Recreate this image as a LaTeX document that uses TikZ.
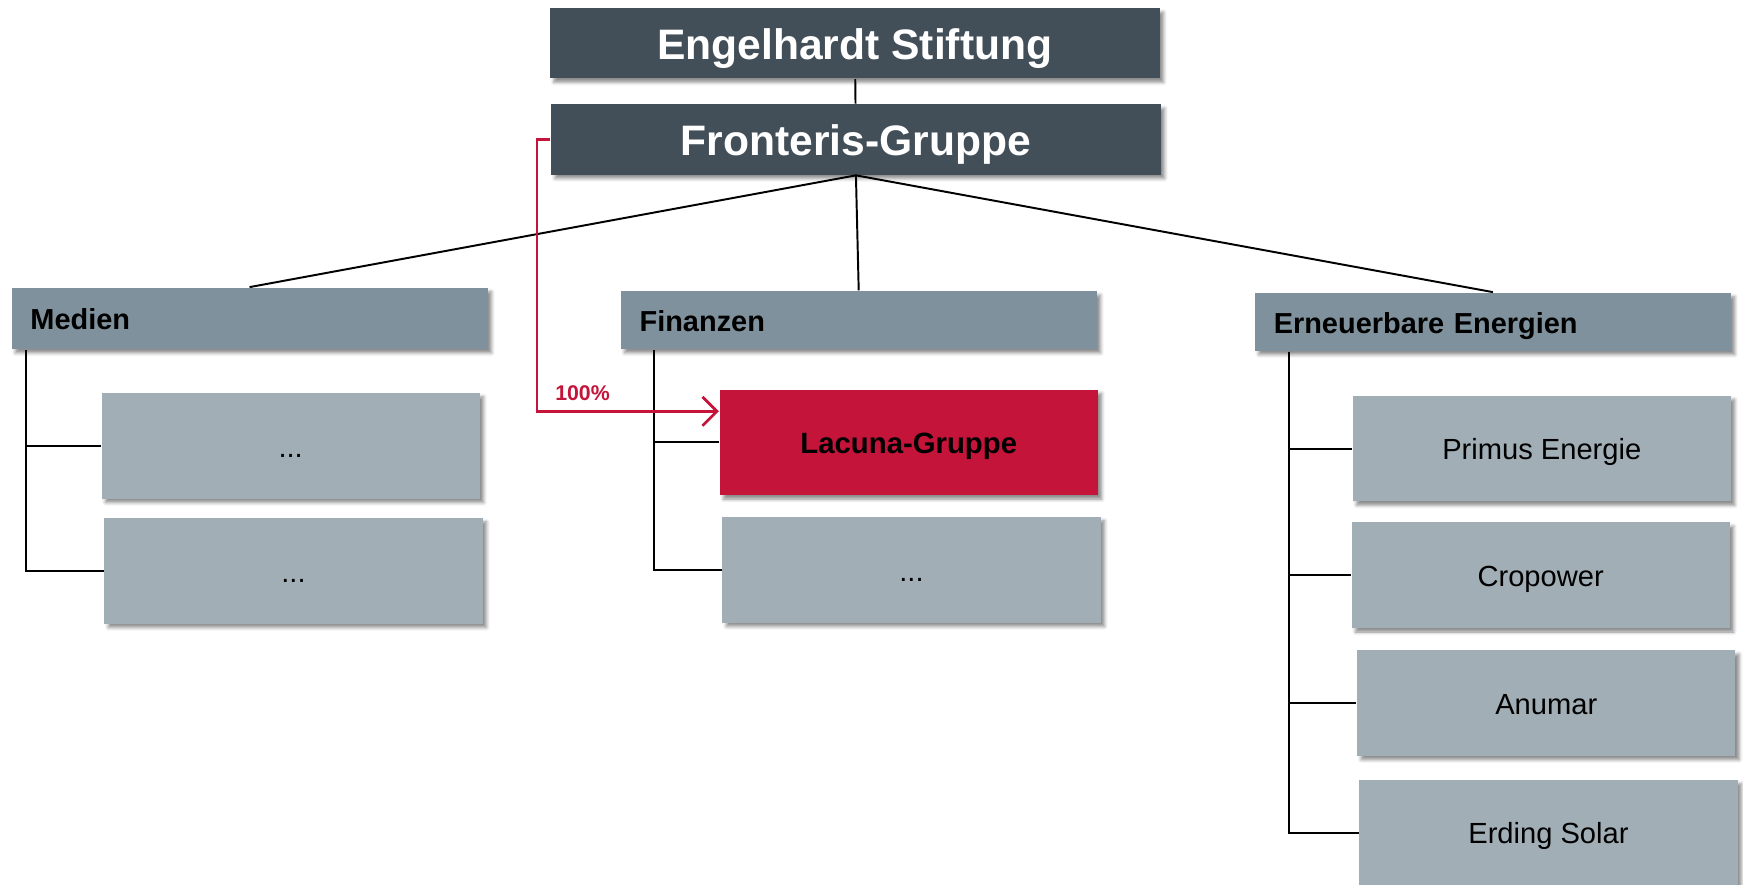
\documentclass[tikz,border=0pt]{standalone}
\usepackage{fontspec}
\setsansfont{Liberation Sans}
\usetikzlibrary{arrows.meta,shadows.blur}

\definecolor{topgrey}{RGB}{67,79,88}
\definecolor{headgrey}{RGB}{127,145,156}
\definecolor{unitgrey}{RGB}{161,174,181}
\definecolor{lacunared}{RGB}{196,20,58}

\begin{document}
\begin{tikzpicture}[x=0.01cm, y=-0.01cm,
		box_shadow/.style={blur shadow={shadow xshift=0.035cm, shadow yshift=-0.035cm, shadow blur radius=0.03cm, shadow opacity=45}},
		text_line/.style={text height=0.9em, text depth=0.1em},
		small_line/.style={text height=0.68em, text depth=0.1em},
		top_style/.style={rectangle, fill=topgrey, text=white, minimum width=5.48cm, minimum height=0.63cm, inner sep=0pt, text_line, box_shadow, font=\sffamily\bfseries\fontsize{10.9}{13}\selectfont},
		head_style/.style={rectangle, fill=headgrey, minimum height=0.52cm, inner xsep=0.17cm, inner ysep=0pt, text width=3.94cm, align=left, small_line, box_shadow, font=\sffamily\bfseries\fontsize{7.4}{9}\selectfont},
		unit_style/.style={rectangle, fill=unitgrey, minimum width=3.4cm, minimum height=0.95cm, inner sep=0pt, small_line, box_shadow, font=\sffamily\fontsize{7.45}{9}\selectfont},
		lacuna_style/.style={unit_style, fill=lacunared, font=\sffamily\bfseries\fontsize{7.5}{9}\selectfont},
		pct_style/.style={text=lacunared, inner sep=0.08cm, font=\sffamily\bfseries\fontsize{5.45}{7}\selectfont},
		edge_style/.style={draw=black, line width=0.5pt},
		own_style/.style={draw=lacunared, line width=0.7pt, -{Straight Barb[length=0.13cm, width=0.26cm, line width=0.7pt]}}]

		\useasboundingbox (0,0) rectangle (1568,796);

		% top of the group
		\node[top_style] (stiftung) at (769,39) {Engelhardt Stiftung};
		\node[top_style] (fronteris) at (770,125.5) {Fronteris-Gruppe};

		% divisions
		\node[head_style, minimum height=0.55cm] (medien) at (224.5,286.5) {Medien};
		\node[head_style] (finanzen) at (772.5,288) {Finanzen};
		\node[head_style] (energien) at (1343,289.5) {Erneuerbare Energien};

		% companies
		\node[unit_style] (medien1) at (261.5,401) {...};
		\node[unit_style] (medien2) at (264,513.5) {...};
		\node[lacuna_style] (lacuna) at (817.5,398) {Lacuna-Gruppe};
		\node[unit_style] (finanzen2) at (820,512.5) {...};
		\node[unit_style] (primus) at (1387,403.5) {Primus Energie};
		\node[unit_style] (cropower) at (1386,517.5) {Cropower};
		\node[unit_style] (anumar) at (1391,632.5) {Anumar};
		\node[unit_style] (erding) at (1393,749) {Erding Solar};

		\draw[edge_style] (stiftung) -- (fronteris);
		\draw[edge_style] (fronteris.south) -- (medien.north);
		\draw[edge_style] (fronteris.south) -- (finanzen.north);
		\draw[edge_style] (fronteris.south) -- (energien.north);

		\draw[edge_style] ([xshift=0.14cm]medien.south west) |- (medien1.west);
		\draw[edge_style] ([xshift=0.14cm]medien.south west) |- (medien2.west);
		\draw[edge_style] ([xshift=0.31cm]finanzen.south west) |- (lacuna.west);
		\draw[edge_style] ([xshift=0.31cm]finanzen.south west) |- (finanzen2.west);
		\draw[edge_style] ([xshift=0.31cm]energien.south west) |- (primus.west);
		\draw[edge_style] ([xshift=0.31cm]energien.south west) |- (cropower.west);
		\draw[edge_style] ([xshift=0.31cm]energien.south west) |- (anumar.west);
		\draw[edge_style] ([xshift=0.31cm]energien.south west) |- (erding.west);

		% share held by the group
		\draw[own_style] (fronteris.west) -- ++(-12,0) |- node[pct_style, pos=0.625, above] {100\%} ([yshift=0.28cm]lacuna.west);

\end{tikzpicture}
\end{document}
